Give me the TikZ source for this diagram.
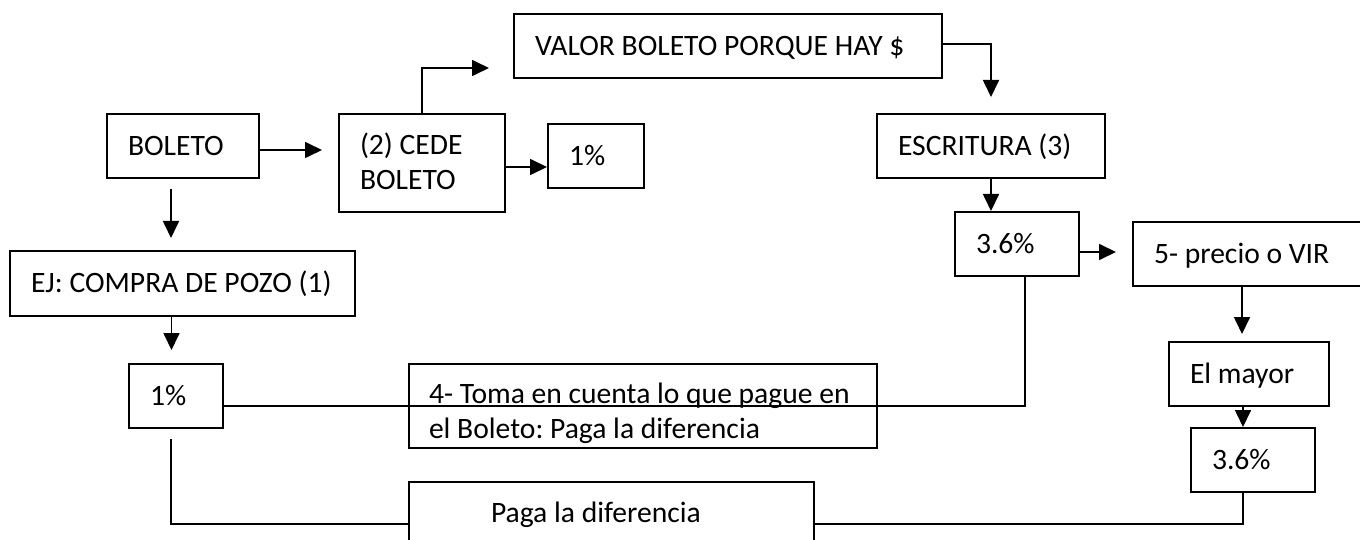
\documentclass[tikz,border=0pt]{standalone}
\usepackage{fontspec}
\setmainfont{Carlito}
\usetikzlibrary{arrows.meta}
\begin{document}
\begin{tikzpicture}[x=1pt,y=-1pt,font=\fontsize{29.6}{35}\selectfont\frenchspacing,
	caja/.style={draw,line width=2pt,anchor=north west,align=flush left,inner xsep=21pt,inner ysep=0pt,text height=18.8pt,text depth=0pt},
	flecha/.style={-{Triangle[length=17pt,width=16pt]},line width=1.7pt},
	linea/.style={line width=1.7pt}]
			\useasboundingbox (0,0) rectangle (1360,540);
			
			\node[caja,text width=110pt,minimum height=64pt] (boleto) at (106,113) {BOLETO};
			\node[caja,text width=124pt,minimum height=98pt,text depth=35pt] (cede) at (338,113) {(2) CEDE\\BOLETO};
			\node[caja,text width=54pt,minimum height=64pt] (unoA) at (547,123) {1\%};
			\node[caja,text width=386pt,minimum height=64pt] (valor) at (513,13) {VALOR BOLETO PORQUE HAY \$};
			\node[caja,text width=186pt,minimum height=64pt] (escritura) at (876,113) {ESCRITURA (3)};
			\node[caja,text width=82pt,minimum height=64pt] (tresA) at (954,211) {3.6\%};
			\node[caja,text width=190pt,minimum height=64pt] (precio) at (1132,221) {5- precio o VIR};
			\node[caja,text width=118pt,minimum height=64pt] (mayor) at (1168,341) {El mayor};
			\node[caja,text width=82pt,minimum height=64pt] (tresB) at (1190,427) {3.6\%};
			\node[caja,text width=303pt,minimum height=65pt] (compra) at (9,250) {\mbox{EJ: COMPRA DE POZO (1)}};
			\node[caja,text width=52pt,minimum height=64pt] (unoB) at (128,363) {1\%};
			\node[caja,text width=428pt,inner xsep=20pt,minimum height=84pt,text height=29.8pt,text depth=35pt] (toma) at (408,363) {\mbox{4- Toma en cuenta lo que pague en}\\el Boleto: Paga la diferencia};
			\node[caja,text width=241pt,inner xsep=82pt,minimum height=62pt] (paga) at (408,481) {Paga la diferencia};
			
			\draw[flecha,shorten >=16pt] ([yshift=-4pt]boleto.east) -- ([yshift=-4pt]boleto.east -| cede.west);
			\draw[flecha] ([yshift=-4pt]cede.east) -- ([yshift=-4pt]cede.east -| unoA.west);
			\draw[flecha,shorten >=24pt] (cede.north) |- ([yshift=-22pt]valor.west);
			\draw[flecha,shorten >=16pt] ([yshift=2pt]valor.east) -| (escritura.north);
			\draw[flecha] (escritura.south) -- (escritura.south |- tresA.north);
			\draw[flecha,shorten >=16pt] ([yshift=-8pt]tresA.east) -- ([yshift=-8pt]tresA.east -| precio.west);
			\draw[flecha,shorten >=7pt] ([xshift=-7pt]precio.south) -- ([xshift=-7pt]precio.south |- mayor.north);
			\draw[flecha] ([xshift=-6pt]mayor.south) -- ([xshift=-6pt]mayor.south |- tresB.north);
			\draw[flecha,shorten <=10pt,shorten >=12pt] ([xshift=-12pt]boleto.south) -- ([xshift=-12pt]boleto.south |- compra.north);
			\draw[flecha,shorten >=13pt] ([xshift=-11pt]compra.south) -- ([xshift=-11pt]compra.south |- unoB.north);
			
			\draw[linea] ([xshift=8pt]tresA.south) |- ([yshift=-10pt]unoB.east);
			\draw[linea] ([xshift=-5pt,yshift=-10pt]unoB.south) |- ([yshift=-11pt]paga.west);
			\draw[linea] ([xshift=-10pt]tresB.south) |- ([yshift=-11pt]paga.east);
	
		\end{tikzpicture}
\end{document}
